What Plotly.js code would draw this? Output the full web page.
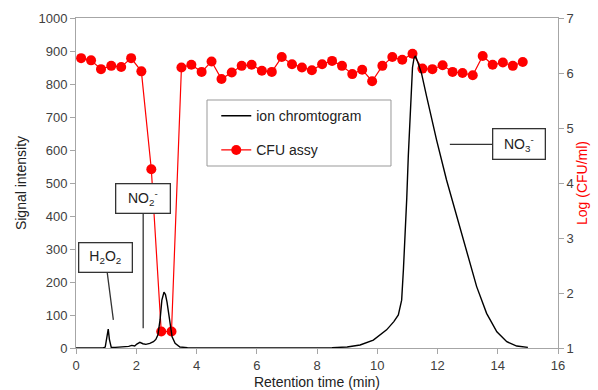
<!DOCTYPE html>
<html>
<head>
<meta charset="utf-8">
<script src="https://cdn.plot.ly/plotly-3.0.1.min.js"></script>
<style>html,body{margin:0;padding:0;background:#fff;}#chart{width:598px;height:390px;}</style>
</head>
<body>
<div id="chart"></div>
<script>
// Ion chromatogram (retention time in min, signal intensity)
const chromTime = [0, 0.9, 0.97, 1.02, 1.07, 1.11, 1.17, 1.3, 1.75, 1.85, 1.95, 2.02, 2.12, 2.22, 2.32, 2.45, 2.57, 2.65, 2.72, 2.79, 2.85, 2.92, 2.97, 3.02, 3.1, 3.19, 3.29, 3.45, 3.7, 5, 7, 8.5, 9.0, 9.43, 9.87, 10.31, 10.55, 10.7, 10.81, 10.87, 10.92, 10.98, 11.03, 11.08, 11.12, 11.17, 11.22, 11.27, 11.33, 11.47, 11.64, 11.97, 12.3, 12.64, 12.97, 13.3, 13.63, 13.97, 14.3, 14.63, 15.0];
const chromSignal = [0, 0, 3, 25, 57, 25, 2, 2, 5, 8, 6, 12, 17, 13, 11, 14, 19, 26, 40, 85, 145, 169, 162, 140, 85, 34, 14, 3, 1, 0, 0, 1, 3, 9, 24, 55, 80, 100, 145, 240, 330, 455, 580, 690, 782, 850, 878, 885, 870, 832, 762, 630, 509, 398, 287, 186, 105, 49, 19, 6, 2];

// CFU assay (retention time in min, log CFU/ml)
const cfuTime = [0.17, 0.50, 0.83, 1.17, 1.50, 1.83, 2.17, 2.50, 2.83, 3.17, 3.50, 3.83, 4.17, 4.50, 4.83, 5.17, 5.50, 5.83, 6.17, 6.50, 6.83, 7.17, 7.50, 7.83, 8.17, 8.50, 8.83, 9.17, 9.50, 9.83, 10.17, 10.50, 10.83, 11.17, 11.50, 11.83, 12.17, 12.50, 12.83, 13.17, 13.50, 13.83, 14.17, 14.50, 14.83];
const cfuLog = [6.27, 6.23, 6.07, 6.13, 6.11, 6.27, 6.03, 4.25, 1.30, 1.30, 6.10, 6.15, 6.02, 6.21, 5.89, 6.01, 6.13, 6.15, 6.04, 6.02, 6.29, 6.16, 6.10, 6.05, 6.16, 6.22, 6.13, 5.98, 6.06, 5.85, 6.13, 6.29, 6.24, 6.35, 6.08, 6.07, 6.14, 6.02, 6.00, 5.96, 6.31, 6.15, 6.19, 6.13, 6.20];

const xTicks = [0, 2, 4, 6, 8, 10, 12, 14, 16];
const leftTicks = [0, 100, 200, 300, 400, 500, 600, 700, 800, 900, 1000];
const rightTicks = [1, 2, 3, 4, 5, 6, 7];

const axisGray = '#a6a6a6';
const textCol = '#404040';
const fontFam = 'Liberation Sans, Arial, sans-serif';

const traces = [
  {
    x: chromTime, y: chromSignal, name: 'ion chromtogram', type: 'scatter', mode: 'lines',
    line: {color: '#000000', width: 1.4}, yaxis: 'y2', legendgroup: 'a'
  },
  {
    x: cfuTime, y: cfuLog, name: 'CFU assy', type: 'scatter', mode: 'lines+markers',
    line: {color: '#ff0000', width: 1.2}, marker: {color: '#ff0000', size: 10},
    yaxis: 'y', legendgroup: 'b'
  }
];

const layout = {
  width: 598, height: 390,
  margin: {l: 76, r: 40, t: 18, b: 42},
  paper_bgcolor: '#fff', plot_bgcolor: '#fff',
  font: {family: fontFam, size: 13, color: textCol},
  showlegend: true,
  legend: {
    x: 0.291, y: 0.751, xanchor: 'left', yanchor: 'top',
    bgcolor: 'rgba(0,0,0,0)', borderwidth: 0,
    traceorder: 'grouped', tracegroupgap: 13,
    font: {family: fontFam, size: 14, color: '#222'}
  },
  xaxis: {
    range: [0, 16], tickvals: xTicks, ticktext: xTicks.map(String),
    showgrid: false, zeroline: false, showline: true, linecolor: axisGray, linewidth: 1,
    mirror: true, ticks: 'outside', ticklen: 5, tickcolor: axisGray,
    tickfont: {size: 13, color: textCol},
    title: {text: 'Retention time (min)', font: {size: 14, color: '#222'}, standoff: 6}
  },
  yaxis: {
    range: [1, 7], tickvals: rightTicks, ticktext: rightTicks.map(String),
    side: 'right',
    showgrid: false, zeroline: false, showline: true, linecolor: axisGray, linewidth: 1,
    ticks: 'outside', ticklen: 5, tickcolor: axisGray,
    tickfont: {size: 13, color: textCol},
    title: {text: 'Log (CFU/ml)', font: {size: 14, color: '#ff0000'}, standoff: 1}
  },
  yaxis2: {
    range: [0, 1000], tickvals: leftTicks, ticktext: leftTicks.map(String),
    overlaying: 'y', side: 'left',
    showgrid: false, zeroline: false, showline: true, linecolor: axisGray, linewidth: 1,
    ticks: 'outside', ticklen: 5, tickcolor: axisGray,
    tickfont: {size: 13, color: textCol},
    title: {text: 'Signal intensity', font: {size: 14, color: '#222'}, standoff: 8}
  },
  shapes: [
    {type: 'rect', xref: 'paper', yref: 'paper', x0: 0.2718, x1: 0.6535, y0: 0.5515, y1: 0.7515,
     line: {color: '#999999', width: 1}, fillcolor: 'rgba(0,0,0,0)', layer: 'above'}
  ],
  annotations: [
    {x: 1.24, y: 85, xref: 'x', yref: 'y2', text: 'H<sub>2</sub>O<sub>2</sub>',
     showarrow: true, arrowhead: 0, arrowwidth: 1.3, arrowcolor: '#333', ax: -8, ay: -62,
     bordercolor: '#333', borderwidth: 1.3, borderpad: 2, bgcolor: '#fff', width: 48, height: 24,
     font: {size: 14, color: '#222'}},
    {x: 2.23, y: 60, xref: 'x', yref: 'y2', text: 'NO<sub>2</sub><sup>-</sup>',
     showarrow: true, arrowhead: 0, arrowwidth: 1.3, arrowcolor: '#333', ax: 0, ay: -130,
     bordercolor: '#333', borderwidth: 1.3, borderpad: 2, bgcolor: '#fff', width: 49, height: 24,
     font: {size: 14, color: '#222'}},
    {x: 12.41, y: 617, xref: 'x', yref: 'y2', text: 'NO<sub>3</sub><sup>-</sup>',
     showarrow: true, arrowhead: 0, arrowwidth: 1.3, arrowcolor: '#333', ax: 69, ay: 0,
     bordercolor: '#333', borderwidth: 1.3, borderpad: 2, bgcolor: '#fff', width: 47, height: 25,
     font: {size: 14, color: '#222'}}
  ]
};

Plotly.newPlot('chart', traces, layout, {displayModeBar: false, staticPlot: true});
</script>
</body>
</html>
